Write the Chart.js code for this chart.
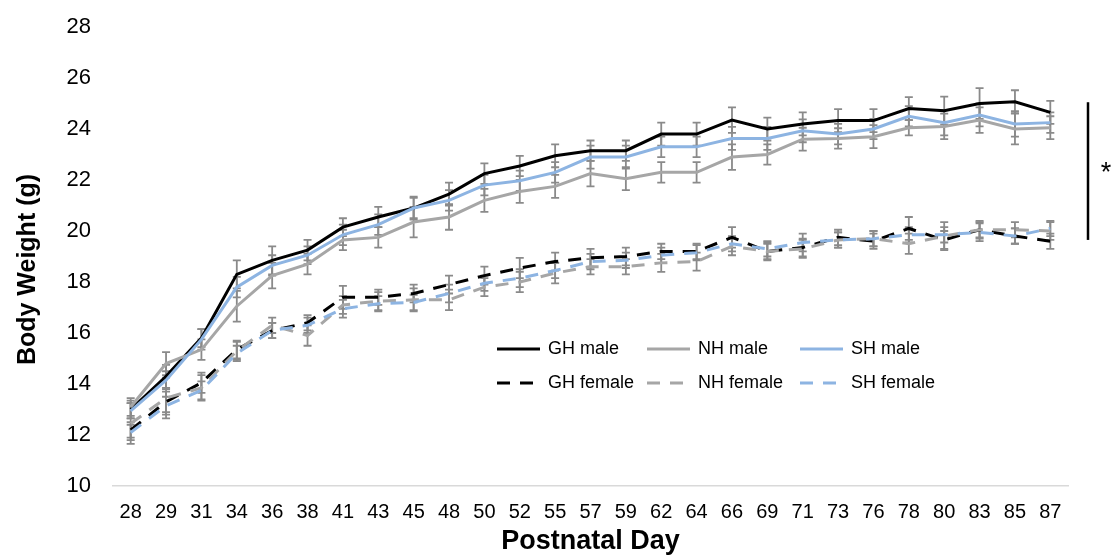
<!DOCTYPE html>
<html><head><meta charset="utf-8">
<script src="https://cdn.jsdelivr.net/npm/chart.js@4/dist/chart.umd.min.js"></script>
<style>html,body{margin:0;padding:0;background:#fff}#wrap{width:1115px;height:558px}</style>
</head><body><div id="wrap"><canvas id="c" width="1115" height="558"></canvas></div>
<script>
// ---- data ----
const days = ['28','29','31','34','36','38','41','43','45','48','50','52','55','57','59','62','64','66','69','71','73','76','78','80','83','85','87'];
const yTicks = [10,12,14,16,18,20,22,24,26,28];

const ghMale   = [13.0,14.3,15.8,18.3,18.85,19.25,20.15,20.55,20.9,21.45,22.25,22.55,22.95,23.15,23.15,23.8,23.8,24.35,24.0,24.2,24.33,24.33,24.8,24.72,25.0,25.07,24.65];
const nhMale   = [13.1,14.8,15.35,17.05,18.25,18.7,19.65,19.75,20.35,20.55,21.2,21.55,21.75,22.25,22.05,22.3,22.3,22.9,23.0,23.6,23.63,23.7,24.05,24.1,24.35,24.0,24.05];
const shMale   = [12.95,14.15,15.75,17.8,18.65,19.05,19.85,20.25,20.9,21.2,21.8,21.97,22.3,22.9,22.9,23.3,23.3,23.63,23.63,23.93,23.8,24.0,24.5,24.25,24.55,24.2,24.25];
const ghFemale = [12.2,13.3,14.05,15.35,16.1,16.4,17.4,17.4,17.55,17.9,18.25,18.55,18.8,18.95,19.0,19.2,19.2,19.75,19.2,19.35,19.75,19.6,20.1,19.65,20.05,19.8,19.6];
const nhFemale = [12.45,13.45,13.85,15.3,16.3,15.9,17.1,17.25,17.3,17.3,17.8,18.0,18.35,18.6,18.6,18.75,18.8,19.4,19.2,19.3,19.65,19.7,19.5,19.8,20.05,20.05,20.0];
const shFemale = [12.1,13.15,13.75,15.2,16.1,16.3,16.95,17.15,17.2,17.55,17.95,18.15,18.45,18.8,18.85,19.05,19.15,19.5,19.3,19.55,19.65,19.7,19.85,19.85,19.95,19.8,20.1];

const ghMaleErr   = [0.35,0.45,0.35,0.55,0.55,0.4,0.35,0.4,0.45,0.45,0.4,0.4,0.45,0.4,0.4,0.45,0.45,0.5,0.45,0.45,0.45,0.45,0.45,0.55,0.6,0.45,0.45];
const nhMaleErr   = [0.35,0.45,0.4,0.6,0.5,0.4,0.4,0.4,0.6,0.5,0.45,0.45,0.45,0.5,0.45,0.4,0.4,0.5,0.4,0.45,0.4,0.45,0.3,0.5,0.5,0.6,0.45];
const shMaleErr   = [0.3,0.35,0.4,0.4,0.4,0.35,0.4,0.4,0.4,0.4,0.4,0.4,0.4,0.45,0.45,0.4,0.4,0.45,0.45,0.45,0.4,0.4,0.4,0.5,0.45,0.5,0.4];
const ghFemaleErr = [0.3,0.4,0.4,0.35,0.3,0.3,0.45,0.3,0.35,0.35,0.35,0.4,0.35,0.35,0.35,0.3,0.3,0.4,0.35,0.35,0.3,0.3,0.45,0.35,0.35,0.3,0.3];
const nhFemaleErr = [0.8,0.8,0.5,0.35,0.3,0.4,0.35,0.35,0.45,0.4,0.35,0.4,0.4,0.3,0.3,0.35,0.35,0.35,0.3,0.35,0.3,0.3,0.4,0.55,0.3,0.3,0.35];
const shFemaleErr = [0.3,0.35,0.35,0.3,0.3,0.3,0.35,0.3,0.3,0.35,0.3,0.35,0.3,0.3,0.3,0.3,0.3,0.3,0.3,0.35,0.3,0.3,0.3,0.3,0.35,0.3,0.3];

const sigRange = [25.05, 19.65];

// ---- styles ----
const FONT = "'Liberation Sans', Arial, Helvetica, sans-serif";
const BLACK = '#000000', GRAY = '#a6a6a6', BLUE = '#8db4e2', ERR = '#8a8a8a';
const DASH = [13, 10];

const series = [
  {label:'SH female', data: shFemale, err: shFemaleErr, color: BLUE,  dash: DASH},
  {label:'NH female', data: nhFemale, err: nhFemaleErr, color: GRAY,  dash: DASH},
  {label:'GH female', data: ghFemale, err: ghFemaleErr, color: BLACK, dash: DASH},
  {label:'SH male',   data: shMale,   err: shMaleErr,   color: BLUE,  dash: []},
  {label:'NH male',   data: nhMale,   err: nhMaleErr,   color: GRAY,  dash: []},
  {label:'GH male',   data: ghMale,   err: ghMaleErr,   color: BLACK, dash: []}
];
const legendOrder = [['GH male','NH male','SH male'],['GH female','NH female','SH female']];

const errorBars = {
  id: 'errorBars',
  beforeDatasetsDraw(chart) {
    const ctx = chart.ctx, ys = chart.scales.y;
    ctx.save();
    ctx.strokeStyle = ERR; ctx.lineWidth = 1.8; ctx.setLineDash([]);
    chart.data.datasets.forEach((ds, di) => {
      const meta = chart.getDatasetMeta(di);
      ds.data.forEach((v, i) => {
        const x = meta.data[i].x;
        const e = ds.errData[i];
        const yt = ys.getPixelForValue(v + e), yb = ys.getPixelForValue(v - e);
        ctx.beginPath();
        ctx.moveTo(x, yt); ctx.lineTo(x, yb);
        ctx.moveTo(x - 4, yt); ctx.lineTo(x + 4, yt);
        ctx.moveTo(x - 4, yb); ctx.lineTo(x + 4, yb);
        ctx.stroke();
      });
    });
    ctx.restore();
  }
};

const extras = {
  id: 'extras',
  afterDraw(chart) {
    const ctx = chart.ctx, a = chart.chartArea, ys = chart.scales.y;
    ctx.save();
    // y axis title
    ctx.save();
    ctx.translate(28, (a.top + a.bottom) / 2 + 13);
    ctx.rotate(-Math.PI / 2);
    ctx.font = 'bold 25px ' + FONT;
    ctx.fillStyle = '#000'; ctx.textAlign = 'center'; ctx.textBaseline = 'middle';
    ctx.fillText('Body Weight (g)', 0, 0);
    ctx.restore();
    // legend
    ctx.font = '18px ' + FONT;
    ctx.textBaseline = 'middle';
    ctx.fillStyle = '#000';
    const colX = [384, 534, 687], rowY = [322, 356];
    legendOrder.forEach((row, r) => {
      row.forEach((name, c) => {
        const s = series.find(q => q.label === name);
        const x0 = a.left + colX[c], y0 = a.top + rowY[r];
        ctx.strokeStyle = s.color; ctx.lineWidth = 3; ctx.setLineDash(s.dash);
        ctx.beginPath(); ctx.moveTo(x0, y0); ctx.lineTo(x0 + 43, y0); ctx.stroke();
        ctx.setLineDash([]);
        ctx.fillText(name, x0 + 51, y0);
      });
    });
    // significance bar
    const bx = a.right + 20;
    ctx.strokeStyle = '#000'; ctx.lineWidth = 2.5;
    ctx.beginPath();
    ctx.moveTo(bx, ys.getPixelForValue(sigRange[0]));
    ctx.lineTo(bx, ys.getPixelForValue(sigRange[1]));
    ctx.stroke();
    ctx.font = '27px ' + FONT;
    ctx.textAlign = 'center';
    ctx.fillText('*', bx + 18, ys.getPixelForValue((sigRange[0] + sigRange[1]) / 2) + 2);
    ctx.restore();
  }
};

new Chart(document.getElementById('c'), {
  type: 'line',
  data: {
    labels: days,
    datasets: series.map(s => ({
      label: s.label, data: s.data, errData: s.err,
      borderColor: s.color, backgroundColor: s.color,
      borderWidth: 3, borderDash: s.dash, pointRadius: 0, tension: 0, fill: false
    }))
  },
  options: {
    responsive: false, animation: false, devicePixelRatio: 1,
    layout: { padding: { left: 0, right: 47, top: 27, bottom: 0 } },
    plugins: { legend: { display: false }, tooltip: { enabled: false } },
    scales: {
      x: {
        offset: true,
        grid: { display: false, drawTicks: false },
        border: { display: true, color: '#d9d9d9', width: 1.5 },
        ticks: { color: '#000', font: { family: FONT, size: 20 }, padding: 14, maxRotation: 0, autoSkip: false },
        title: { display: true, text: 'Postnatal Day', color: '#000', font: { family: FONT, size: 27, weight: 'bold' }, padding: { top: 6, bottom: 0 } },
        afterFit(s) { s.height = 72; s.paddingLeft = 0; s.paddingRight = 0; }
      },
      y: {
        min: 10, max: 28,
        afterBuildTicks(s) { s.ticks = yTicks.map(v => ({ value: v })); },
        grid: { display: false, drawTicks: false },
        border: { display: false },
        ticks: { color: '#000', font: { family: FONT, size: 22 }, padding: 22 },
        title: { display: false },
        afterFit(s) { s.width = 113; s.paddingTop = 0; s.paddingBottom = 0; }
      }
    }
  },
  plugins: [errorBars, extras]
});
</script></body></html>
